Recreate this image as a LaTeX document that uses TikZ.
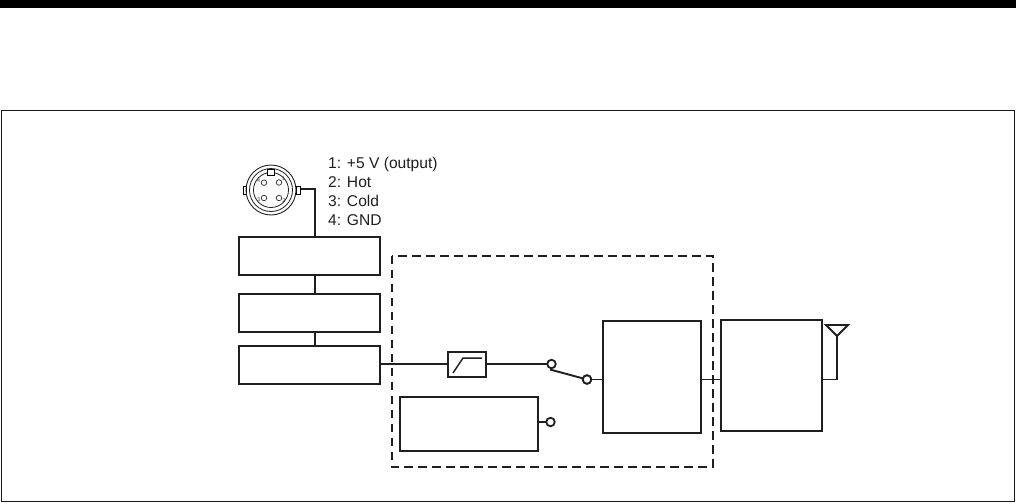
\documentclass[tikz,border=0pt]{standalone}
\usepackage{fontspec}
\setmainfont{Liberation Sans}
\begin{document}
\begin{tikzpicture}[x=1pt,y=-1pt,
  wire/.style={line width=1.9pt,draw=black!88},
  blockbox/.style={draw=black!88,line width=1.9pt,fill=white,inner sep=0pt,outer sep=0pt,anchor=north west},
  term/.style={circle,draw=black!88,line width=1.8pt,fill=white,minimum size=8.5pt,inner sep=0pt,outer sep=0pt},
  pinhole/.style={circle,draw=black!85,line width=.7pt,fill=white,minimum size=5.5pt,inner sep=0pt},
  pinlabel/.style={font=\fontsize{5.5}{5.5}\selectfont,inner sep=0pt,text=black!75},
  pintext/.style={font=\fontsize{15.6}{16}\selectfont,anchor=base west,inner sep=0pt,text=black!88}]
\useasboundingbox (0,0) rectangle (1016,503);
\fill[black] (0,0) rectangle (1016,8.5);
\draw[line width=1.3pt,draw=black!90] (1.5,110.3) rectangle (1014.3,501.8);

% dashed enclosure
\draw[line width=1.8pt,draw=black!88,dash pattern=on 8.5pt off 5.5pt] (391.7,255.7) rectangle (713,467);

% blocks
\node[blockbox,minimum width=140.7pt,minimum height=38pt] (b1) at (239,236.7) {};
\node[blockbox,minimum width=140.7pt,minimum height=38pt] (b2) at (239,293.7) {};
\node[blockbox,minimum width=140.7pt,minimum height=37.7pt] (b3) at (239,346) {};
\node[blockbox,minimum width=38pt,minimum height=25.5pt] (flt) at (448,351.7) {};
\node[blockbox,minimum width=138pt,minimum height=54pt] (gen) at (400,397) {};
\node[blockbox,minimum width=98pt,minimum height=112pt] (b4) at (603,321) {};
\node[blockbox,minimum width=101pt,minimum height=111pt] (b5) at (721,320) {};

\coordinate (vx) at (314.7,0);
\draw[wire] (b1.south -| vx) -- (b2.north -| vx);
\draw[wire] (b2.south -| vx) -- (b3.north -| vx);

% filter symbol
\coordinate (f1) at (453,373);
\coordinate (f2) at (463,358);
\coordinate (f3) at (482,358);
\draw[line width=1.5pt,draw=black!88] (f1) -- (f2) -- (f3);

% switch
\coordinate (ly) at (0,363.7);
\node[term] (s1) at (551.5,364) {};
\node[term] (s2) at (550.5,422) {};
\node[term] (sp) at (587,379.5) {};
\draw[wire] (b3.east |- ly) -- (flt.west |- ly);
\draw[wire] (flt.east |- ly) -- (s1.west |- ly);
\draw[wire] (gen.east |- s2) -- (s2.west);
\coordinate (arm) at (550,369.5);
\draw[wire] (arm) -- (sp);
\node[term] at (sp) {};
\draw[wire] (sp.east) -- (b4.west |- sp);

% output
\coordinate (o1) at (701,379.5);
\draw[wire] (o1) -- (b5.west |- o1);

% antenna
\coordinate (anttip) at (837,336);
\coordinate (antl) at (826,325);
\coordinate (antr) at (848,325);
\coordinate (antb) at (837,379.5);
\draw[wire,line join=miter] (antl) -- (antr) -- (anttip) -- cycle;
\draw[wire] (b5.east |- antb) -- (antb) -- (anttip);

% connector
\coordinate (cc) at (271,190);
\draw[line width=.8pt,fill=white] (243.5,186) rectangle (246.5,194);
\draw[line width=.8pt,fill=white] (296,186) rectangle (300.5,194);
\node[circle,draw=black!88,line width=.9pt,minimum size=50pt,inner sep=0pt] (jack) at (cc) {};
\node[circle,draw=black!88,line width=.8pt,minimum size=43pt,inner sep=0pt] at (cc) {};
\node[circle,draw=black!88,line width=.8pt,minimum size=35pt,inner sep=0pt] at (cc) {};
\draw[line width=.8pt,fill=white] (267,169) rectangle (274.5,175);
\node[pinhole] at (264,182.7) {};
\node[pinhole] at (279,182.5) {};
\node[pinhole] at (264,198) {};
\node[pinhole] at (279,198) {};
\node[pinlabel] at (258.7,181) {4};
\node[pinlabel] at (283.5,179) {1};
\node[pinlabel] at (258.7,199.5) {3};
\node[pinlabel] at (284,201) {2};
\draw[wire] (300.5,189.3) -| (b1.north -| vx);

% pin list
\node[pintext] (t1) at (328,168) {1: +5 V (output)};
\node[pintext] (t2) at (328,187.2) {2: Hot};
\node[pintext] (t3) at (328,206) {3: Cold};
\node[pintext] (t4) at (328,225) {4: GND};
\end{tikzpicture}
\end{document}
